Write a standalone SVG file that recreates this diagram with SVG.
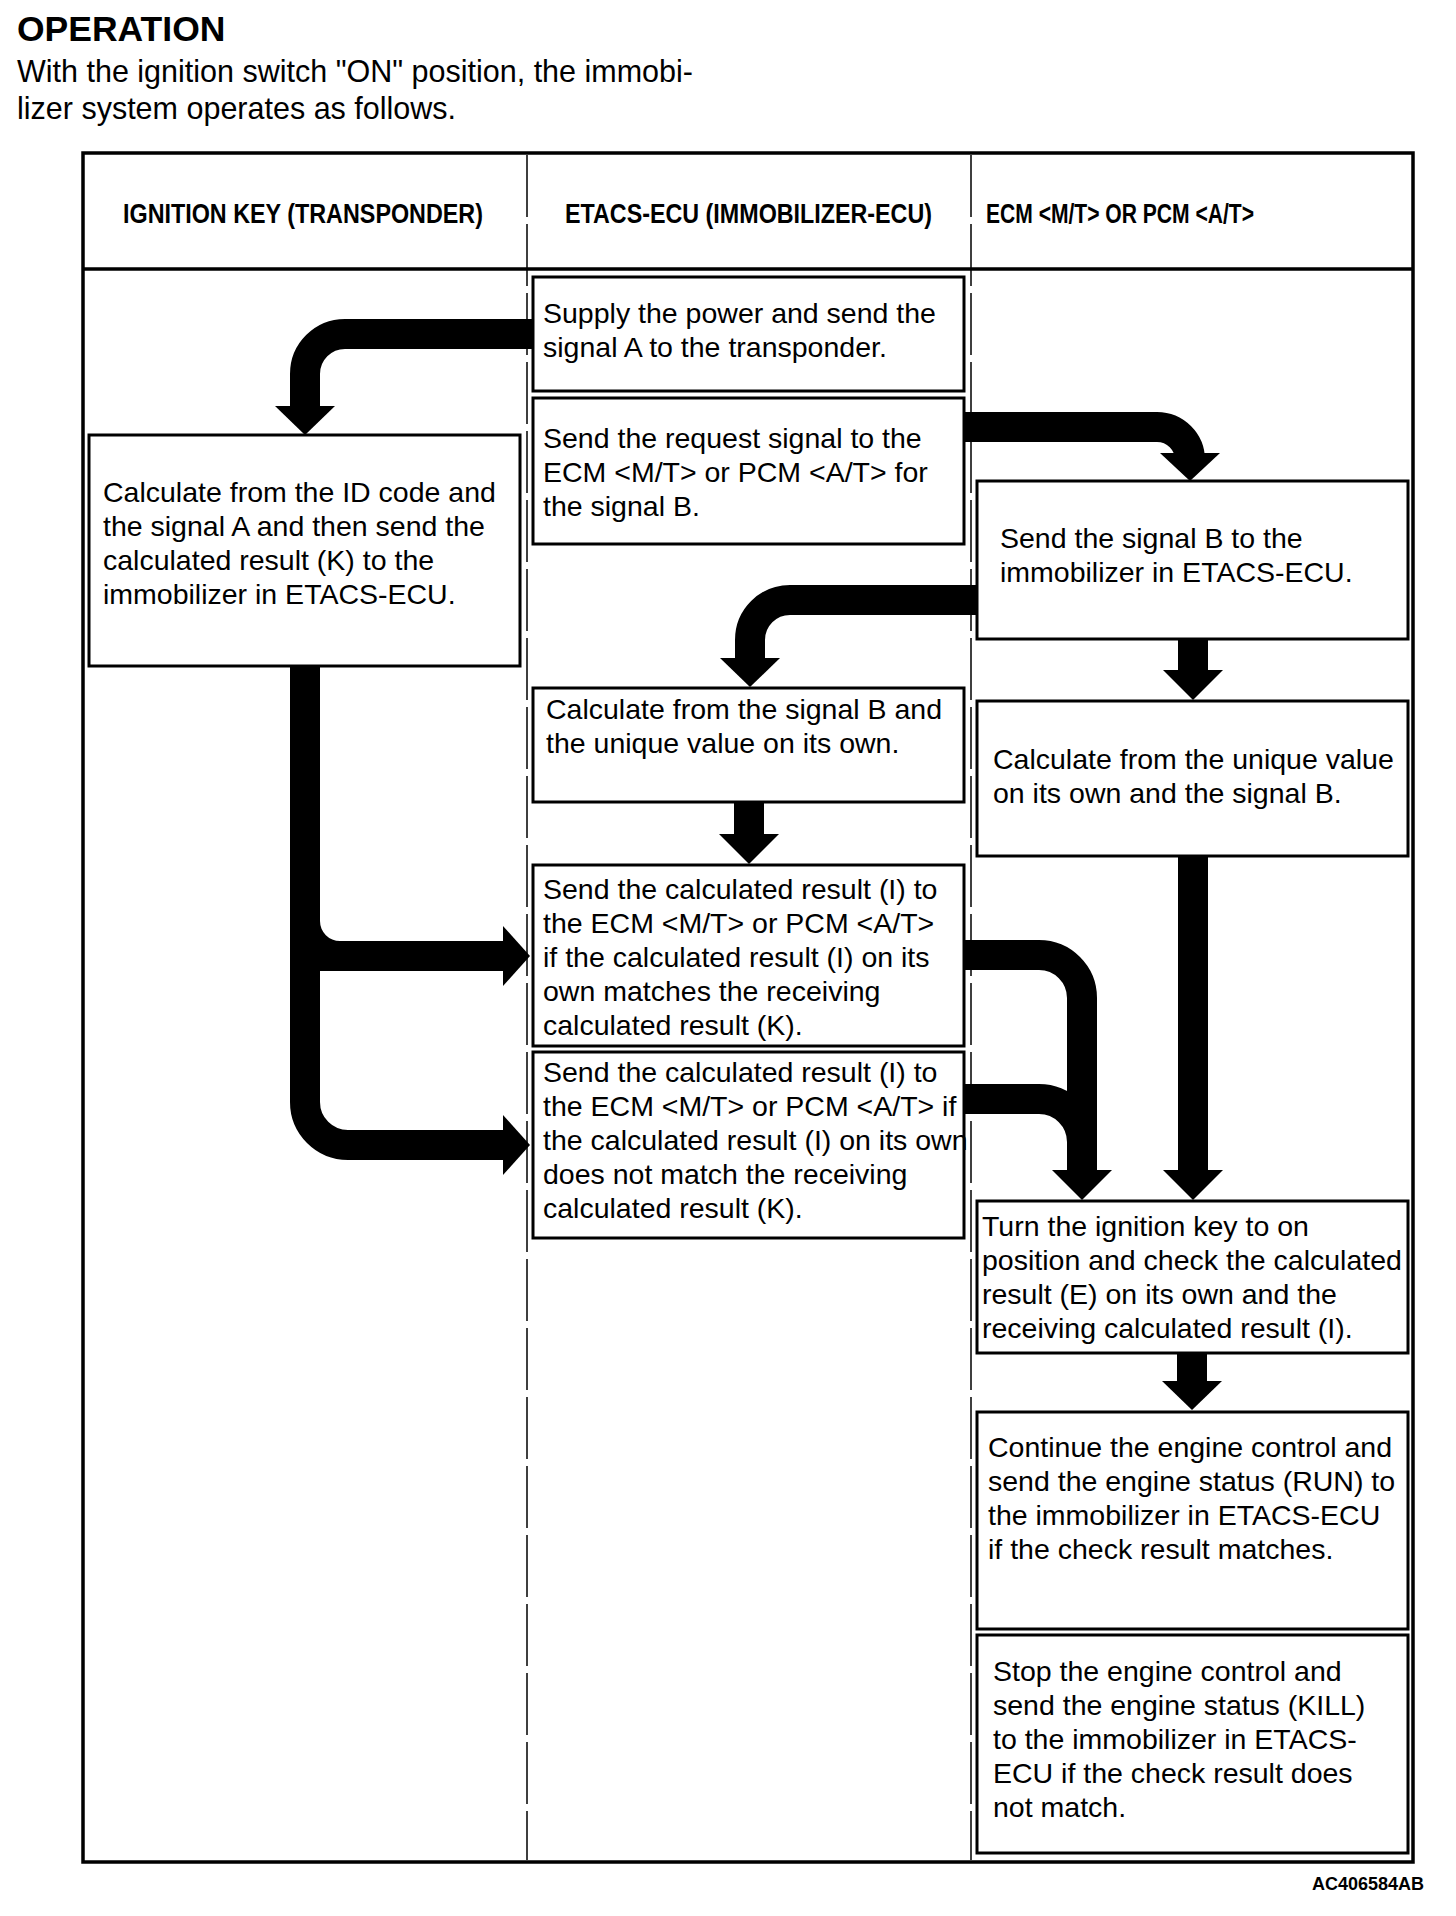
<svg xmlns="http://www.w3.org/2000/svg" width="1456" height="1916" viewBox="0 0 1456 1916">
<style>
.box{fill:#fff;stroke:#000;stroke-width:3}
.t{font-family:"Liberation Sans",Arial,sans-serif;font-size:28.5px;fill:#000}
.h{font-family:"Liberation Sans",Arial,sans-serif;font-size:27px;font-weight:bold;fill:#000}
.div{stroke:#000;stroke-width:1.5;stroke-dasharray:62 7;fill:none}
.c{fill:none;stroke:#000;stroke-width:30}
.ah{fill:#000}
</style>
<rect width="1456" height="1916" fill="#fff"/>
<g id="title">
<text x="17" y="41" font-family="Liberation Sans,Arial,sans-serif" font-size="35.5" font-weight="bold">OPERATION</text>
<text x="17" y="82" font-family="Liberation Sans,Arial,sans-serif" font-size="30.5">With the ignition switch "ON" position, the immobi-</text>
<text x="17" y="119" font-family="Liberation Sans,Arial,sans-serif" font-size="30.5">lizer system operates as follows.</text>
</g>
<g id="frame">
<rect x="83" y="153" width="1330" height="1709" fill="none" stroke="#000" stroke-width="3.5"/>
<line x1="83" y1="269" x2="1413" y2="269" stroke="#000" stroke-width="3.5"/>
<line class="div" x1="527" y1="155" x2="527" y2="1860"/>
<line class="div" x1="971" y1="155" x2="971" y2="1860"/>
<text class="h" x="123" y="223" textLength="360" lengthAdjust="spacingAndGlyphs">IGNITION KEY (TRANSPONDER)</text>
<text class="h" x="565" y="223" textLength="367" lengthAdjust="spacingAndGlyphs">ETACS-ECU (IMMOBILIZER-ECU)</text>
<text class="h" x="986" y="223" textLength="268" lengthAdjust="spacingAndGlyphs">ECM &lt;M/T&gt; OR PCM &lt;A/T&gt;</text>
</g>
<g id="connectors">
<path class="c" d="M533 334 H345 A40 40 0 0 0 305 374 V407"/>
<polygon class="ah" points="275,406 335,406 305,435"/>
<path class="c" d="M964 427 H1157 A33 33 0 0 1 1190 460"/>
<polygon class="ah" points="1160,453 1220,453 1190,481"/>
<path class="c" d="M1193 639 V671"/>
<polygon class="ah" points="1163,670 1223,670 1193,700"/>
<path class="c" d="M977 600 H790 A40 40 0 0 0 750 640 V659"/>
<polygon class="ah" points="720,658 780,658 750,687"/>
<path class="c" d="M749 802 V835"/>
<polygon class="ah" points="719,834 779,834 749,864"/>
<path class="c" d="M305 666 V1102 A43 43 0 0 0 348 1145 H504"/>
<polygon class="ah" points="503,1115 530,1145 503,1175"/>
<path class="ah" d="M320 921 A20 20 0 0 0 340 941 H504 V971 H320 Z"/>
<polygon class="ah" points="503,926 530,956 503,986"/>
<path class="c" d="M964 955 H1039 A43 43 0 0 1 1082 998 V1171"/>
<path class="c" d="M964 1099 H1039 A43 43 0 0 1 1082 1142 V1171"/>
<polygon class="ah" points="1052,1170 1112,1170 1082,1200"/>
<path class="c" d="M1193 856 V1171"/>
<polygon class="ah" points="1163,1170 1223,1170 1193,1200"/>
<path class="c" d="M1192 1353 V1382"/>
<polygon class="ah" points="1162,1381 1222,1381 1192,1410"/>
</g>
<g id="n1">
<rect class="box" x="533" y="277" width="431" height="114"/>
<text class="t" x="543" y="323">Supply the power and send the</text>
<text class="t" x="543" y="357">signal A to the transponder.</text>
</g>
<g id="n2">
<rect class="box" x="533" y="398" width="431" height="146"/>
<text class="t" x="543" y="448">Send the request signal to the</text>
<text class="t" x="543" y="482">ECM &lt;M/T&gt; or PCM &lt;A/T&gt; for</text>
<text class="t" x="543" y="516">the signal B.</text>
</g>
<g id="n3">
<rect class="box" x="89" y="435" width="431" height="231"/>
<text class="t" x="103" y="502">Calculate from the ID code and</text>
<text class="t" x="103" y="536">the signal A and then send the</text>
<text class="t" x="103" y="570">calculated result (K) to the</text>
<text class="t" x="103" y="604">immobilizer in ETACS-ECU.</text>
</g>
<g id="n4">
<rect class="box" x="977" y="481" width="431" height="158"/>
<text class="t" x="1000" y="548">Send the signal B to the</text>
<text class="t" x="1000" y="582">immobilizer in ETACS-ECU.</text>
</g>
<g id="n5">
<rect class="box" x="533" y="688" width="431" height="114"/>
<text class="t" x="546" y="719">Calculate from the signal B and</text>
<text class="t" x="546" y="753">the unique value on its own.</text>
</g>
<g id="n6">
<rect class="box" x="977" y="701" width="431" height="155"/>
<text class="t" x="993" y="769">Calculate from the unique value</text>
<text class="t" x="993" y="803">on its own and the signal B.</text>
</g>
<g id="n7">
<rect class="box" x="533" y="865" width="431" height="181"/>
<text class="t" x="543" y="899">Send the calculated result (I) to</text>
<text class="t" x="543" y="933">the ECM &lt;M/T&gt; or PCM &lt;A/T&gt;</text>
<text class="t" x="543" y="967">if the calculated result (I) on its</text>
<text class="t" x="543" y="1001">own matches the receiving</text>
<text class="t" x="543" y="1035">calculated result (K).</text>
</g>
<g id="n8">
<rect class="box" x="533" y="1052" width="431" height="186"/>
<text class="t" x="543" y="1082">Send the calculated result (I) to</text>
<text class="t" x="543" y="1116">the ECM &lt;M/T&gt; or PCM &lt;A/T&gt; if</text>
<text class="t" x="543" y="1150">the calculated result (I) on its own</text>
<text class="t" x="543" y="1184">does not match the receiving</text>
<text class="t" x="543" y="1218">calculated result (K).</text>
</g>
<g id="n9">
<rect class="box" x="977" y="1201" width="431" height="152"/>
<text class="t" x="982" y="1236">Turn the ignition key to on</text>
<text class="t" x="982" y="1270">position and check the calculated</text>
<text class="t" x="982" y="1304">result (E) on its own and the</text>
<text class="t" x="982" y="1338">receiving calculated result (I).</text>
</g>
<g id="n10">
<rect class="box" x="977" y="1412" width="431" height="217"/>
<text class="t" x="988" y="1457">Continue the engine control and</text>
<text class="t" x="988" y="1491">send the engine status (RUN) to</text>
<text class="t" x="988" y="1525">the immobilizer in ETACS-ECU</text>
<text class="t" x="988" y="1559">if the check result matches.</text>
</g>
<g id="n11">
<rect class="box" x="977" y="1635" width="431" height="218"/>
<text class="t" x="993" y="1681">Stop the engine control and</text>
<text class="t" x="993" y="1715">send the engine status (KILL)</text>
<text class="t" x="993" y="1749">to the immobilizer in ETACS-</text>
<text class="t" x="993" y="1783">ECU if the check result does</text>
<text class="t" x="993" y="1817">not match.</text>
</g>
<g id="label">
<text x="1424" y="1890" text-anchor="end" font-family="Liberation Sans,Arial,sans-serif" font-size="18" font-weight="bold">AC406584AB</text>
</g>
</svg>
